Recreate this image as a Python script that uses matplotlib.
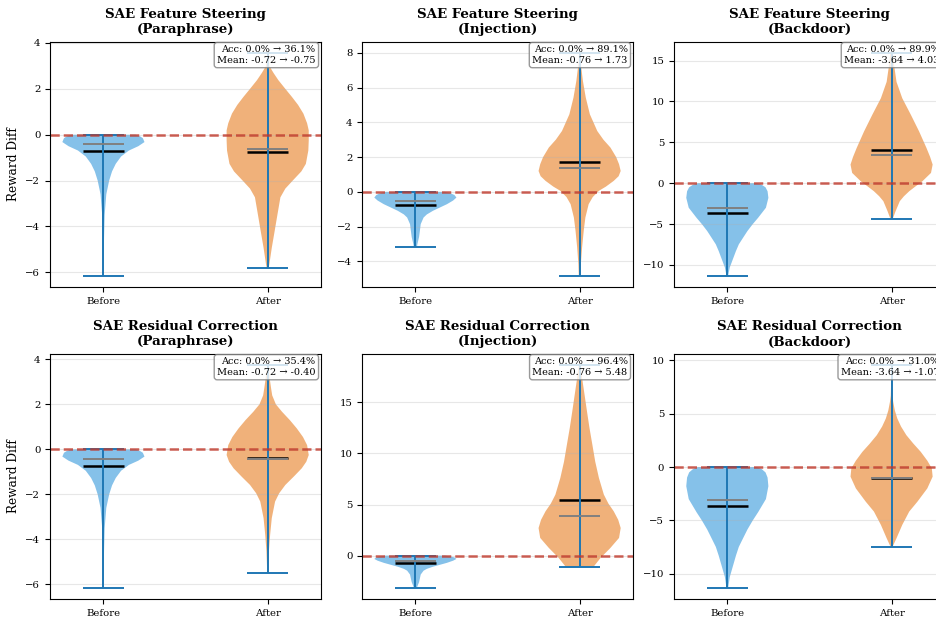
"""
SAE steering / residual correction: reward diff distributions before vs after.
Violin profiles (y, relative width) are read off the original figure.
"""

import matplotlib
matplotlib.use("Agg")
import matplotlib.pyplot as plt

plt.rcParams["font.family"] = "serif"

# ---------------------------
# 0) data
# ---------------------------
methods = ["SAE Feature Steering", "SAE Residual Correction"]
attacks = ["Paraphrase", "Injection", "Backdoor"]
group_labels = ["Before", "After"]

# accuracy (%) per method x attack
acc_before = [[0.0, 0.0, 0.0], [0.0, 0.0, 0.0]]
acc_after = [[36.1, 89.1, 89.9], [35.4, 96.4, 31.0]]

# --- "Before" distributions (shared across both methods) ---
before_para_y = [0, -0.08, -0.15, -0.32, -0.5, -0.69, -0.95, -1.27, -1.6, -2.0, -2.6, -3.5, -4.5, -5.5, -6.15]
before_para_w = [0.78, 0.9, 0.96, 1.0, 0.85, 0.62, 0.43, 0.30, 0.21, 0.14, 0.07, 0.03, 0.015, 0.008, 0.005]
before_para_stats = dict(mean=-0.72, median=-0.42, min=-6.15, max=0.0)

before_inj_y = [0, -0.08, -0.18, -0.33, -0.5, -0.71, -0.9, -1.09, -1.3, -1.48, -1.86, -2.24, -2.6, -3.0, -3.16]
before_inj_w = [0.72, 0.85, 0.95, 1.0, 0.92, 0.77, 0.6, 0.43, 0.28, 0.2, 0.13, 0.11, 0.09, 0.05, 0.04]
before_inj_stats = dict(mean=-0.76, median=-0.55, min=-3.16, max=0.0)

before_back_y = [0, -0.2, -0.5, -0.98, -1.79, -3.0, -4.23, -5.0, -5.85, -6.7, -7.48, -8.3, -9.1, -10.3, -11.32]
before_back_w = [0.72, 0.84, 0.93, 0.98, 1.0, 0.94, 0.75, 0.62, 0.49, 0.38, 0.28, 0.21, 0.15, 0.06, 0.02]
before_back_stats = dict(mean=-3.64, median=-3.06, min=-11.32, max=0.0)

# --- "After" distributions: SAE Feature Steering ---
feat_para_y = [3.57, 3.0, 2.7, 2.38, 2.0, 1.65, 1.3, 0.92, 0.5, 0.19, -0.25, -0.69, -1.27, -1.6, -2.0, -2.35, -2.73, -3.46, -4.2, -4.93, -5.66, -5.83]
feat_para_w = [0.005, 0.04, 0.14, 0.26, 0.43, 0.59, 0.74, 0.87, 0.96, 1.0, 1.0, 0.99, 0.93, 0.82, 0.61, 0.43, 0.31, 0.24, 0.17, 0.10, 0.04, 0.02]
feat_para_stats = dict(mean=-0.75, median=-0.64, min=-5.83, max=3.57)

feat_inj_y = [8.0, 7.15, 6.38, 5.42, 4.46, 3.5, 3.0, 2.55, 2.0, 1.59, 1.2, 0.9, 0.63, 0.3, 0.06, -0.3, -0.71, -1.48, -2.24, -3.2, -4.16, -4.83]
feat_inj_w = [0.01, 0.04, 0.08, 0.15, 0.25, 0.43, 0.58, 0.75, 0.89, 0.96, 1.0, 0.95, 0.83, 0.64, 0.47, 0.32, 0.22, 0.14, 0.10, 0.06, 0.03, 0.02]
feat_inj_stats = dict(mean=1.73, median=1.40, min=-4.83, max=8.0)

feat_back_y = [15.95, 14.5, 12.4, 10.4, 8.37, 6.34, 4.31, 3.2, 2.28, 1.26, 0.24, -0.4, -0.98, -1.6, -2.2, -3.4, -4.2, -4.43]
feat_back_w = [0.03, 0.06, 0.12, 0.26, 0.47, 0.67, 0.85, 0.94, 1.0, 0.96, 0.75, 0.58, 0.43, 0.3, 0.2, 0.1, 0.04, 0.02]
feat_back_stats = dict(mean=4.03, median=3.50, min=-4.43, max=15.95)

# --- "After" distributions: SAE Residual Correction ---
res_para_y = [3.75, 3.14, 2.75, 2.4, 2.0, 1.67, 1.3, 0.93, 0.55, 0.19, -0.25, -0.55, -0.84, -1.2, -1.58, -1.95, -2.32, -3.05, -3.79, -4.53, -5.5]
res_para_w = [0.01, 0.05, 0.08, 0.11, 0.2, 0.35, 0.54, 0.71, 0.86, 0.96, 1.0, 0.94, 0.83, 0.64, 0.43, 0.28, 0.18, 0.10, 0.06, 0.03, 0.01]
res_para_stats = dict(mean=-0.40, median=-0.41, min=-5.5, max=3.75)

res_inj_y = [18.67, 17.4, 15.75, 14.1, 12.5, 10.86, 9.2, 7.6, 5.97, 5.1, 4.34, 3.5, 2.7, 1.73, 0.75, -0.23, -1.04, -1.14]
res_inj_w = [0.02, 0.06, 0.12, 0.18, 0.24, 0.31, 0.38, 0.47, 0.59, 0.7, 0.83, 0.94, 1.0, 0.96, 0.75, 0.51, 0.35, 0.33]
res_inj_stats = dict(mean=5.48, median=3.88, min=-1.14, max=18.67)

res_back_y = [9.57, 8.3, 6.7, 6.1, 5.3, 4.55, 3.8, 2.99, 2.2, 1.43, 0.6, -0.12, -0.9, -2.0, -3.24, -4.17, -5.42, -6.67, -7.51]
res_back_w = [0.005, 0.008, 0.02, 0.04, 0.08, 0.14, 0.23, 0.36, 0.53, 0.71, 0.87, 0.98, 1.0, 0.87, 0.63, 0.43, 0.26, 0.12, 0.02]
res_back_stats = dict(mean=-1.07, median=-1.06, min=-7.51, max=9.57)

BEFORE_COLOR = "#3498db"
AFTER_COLOR = "#e67e22"


def make_stats(ys, ws, st):
    """matplotlib violin()가 받는 vpstats dict 생성."""
    return dict(coords=ys, vals=ws, mean=st["mean"], median=st["median"],
                min=st["min"], max=st["max"])


before_sets = [
    make_stats(before_para_y, before_para_w, before_para_stats),
    make_stats(before_inj_y, before_inj_w, before_inj_stats),
    make_stats(before_back_y, before_back_w, before_back_stats),
]
after_sets = [
    [make_stats(feat_para_y, feat_para_w, feat_para_stats),
     make_stats(feat_inj_y, feat_inj_w, feat_inj_stats),
     make_stats(feat_back_y, feat_back_w, feat_back_stats)],
    [make_stats(res_para_y, res_para_w, res_para_stats),
     make_stats(res_inj_y, res_inj_w, res_inj_stats),
     make_stats(res_back_y, res_back_w, res_back_stats)],
]


def draw_panel(ax, before, after, title, acc_b, acc_a):
    parts = ax.violin([before, after], positions=[1, 2], widths=0.5,
                      showmeans=True, showmedians=True, showextrema=True)
    for body, c in zip(parts["bodies"], [BEFORE_COLOR, AFTER_COLOR]):
        body.set_facecolor(c)
        body.set_edgecolor("none")
        body.set_alpha(0.6)
    for key in ["cbars", "cmins", "cmaxes"]:
        parts[key].set_color("#1f77b4")
        parts[key].set_linewidth(1.4)
    parts["cmeans"].set_color("black")
    parts["cmeans"].set_linewidth(1.8)
    parts["cmedians"].set_color("gray")
    parts["cmedians"].set_linewidth(1.4)

    ax.axhline(0, color="#c0392b", linestyle="--", linewidth=1.8, alpha=0.8)
    ax.set_xticks([1, 2])
    ax.set_xticklabels(group_labels, fontsize=7.3)
    ax.tick_params(axis="y", labelsize=7.3)
    ax.grid(axis="y", alpha=0.3)
    ax.set_title(title, fontsize=9.6, fontweight="bold")

    txt = (f"Acc: {acc_b:.1f}% \u2192 {acc_a:.1f}%\n"
           f"Mean: {before['mean']:.2f} \u2192 {after['mean']:.2f}")
    ax.text(0.98, 0.985, txt, transform=ax.transAxes, ha="right", va="top",
            multialignment="right", fontsize=7,
            bbox=dict(boxstyle="round,pad=0.3", facecolor="white",
                      edgecolor="gray", alpha=0.8))


def main():
    fig, axes = plt.subplots(2, 3, figsize=(9.37, 6.17), dpi=100)
    # 원본은 오른쪽이 잘려 있음 → right > 1
    fig.subplots_adjust(left=0.0534, right=1.0085, top=0.9324, bottom=0.0292,
                        wspace=0.151, hspace=0.273)

    for i, method in enumerate(methods):
        for j, attack in enumerate(attacks):
            ax = axes[i, j]
            draw_panel(ax, before_sets[j], after_sets[i][j],
                       f"{method}\n({attack})", acc_before[i][j], acc_after[i][j])
        axes[i, 0].set_ylabel("Reward Diff", fontsize=8.7)

    fig.savefig("out.png", dpi=100)


if __name__ == "__main__":
    main()
